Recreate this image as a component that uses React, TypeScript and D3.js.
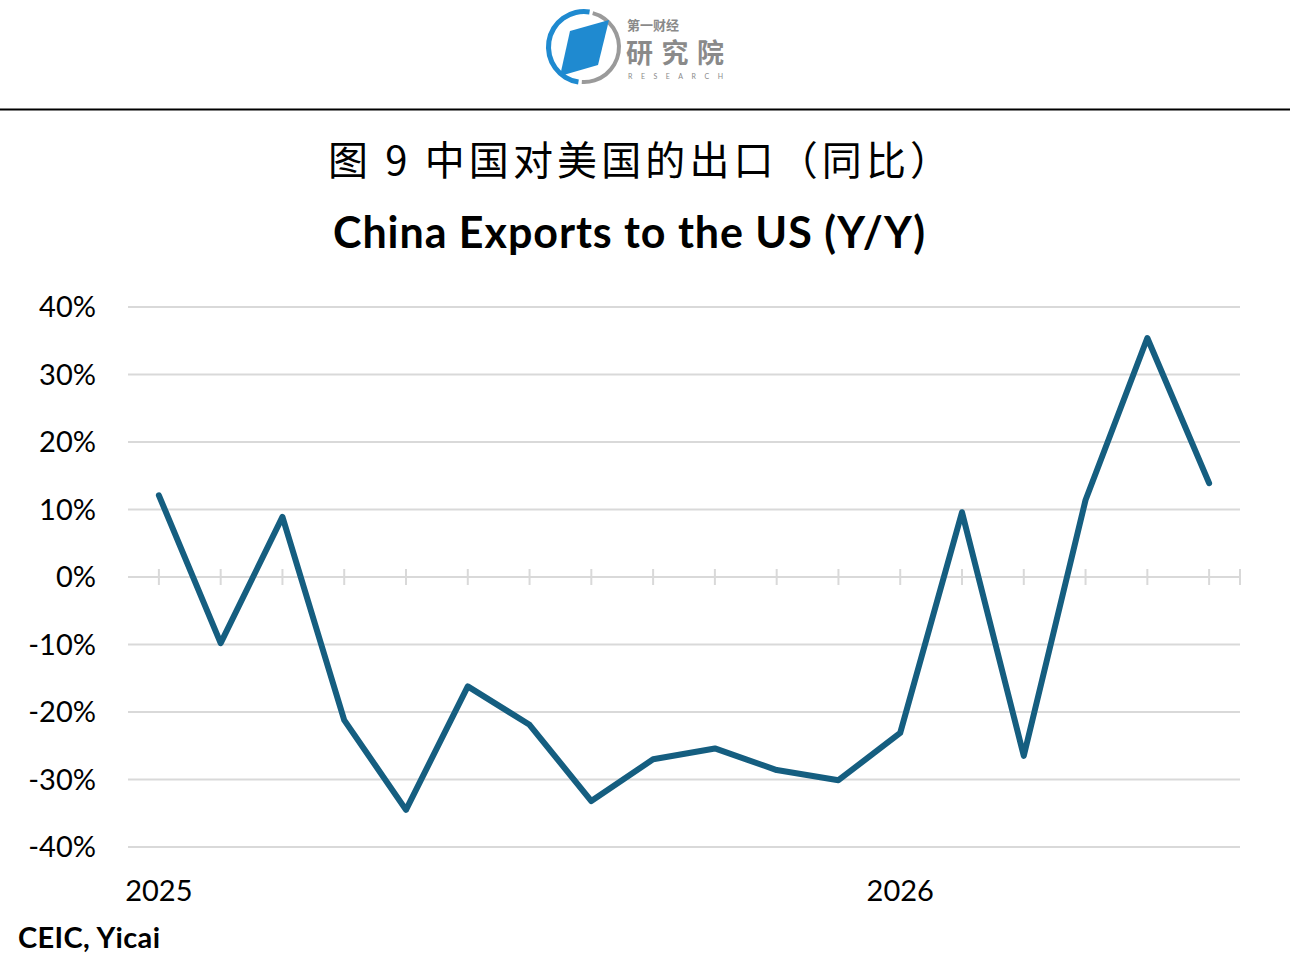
import React from "react";
import * as d3 from "d3";

const months = [
  "2025-01","2025-02","2025-03","2025-04","2025-05","2025-06",
  "2025-07","2025-08","2025-09","2025-10","2025-11","2025-12",
  "2026-01","2026-02","2026-03","2026-04","2026-05","2026-06",
];
const yoy = [12.1, -9.8, 8.9, -21.2, -34.5, -16.2, -21.9, -33.2, -27.0, -25.4, -28.6, -30.1, -23.1, 9.6, -26.5, 11.4, 35.4, 13.9];
const yTicks = [40, 30, 20, 10, 0, -10, -20, -30, -40];
const yearLabels = [{ month: "2025-01", label: "2025" }, { month: "2026-01", label: "2026" }];

const W = 1290, H = 954;
const left = 128, right = 1240, top = 307, bottom = 847;

export default function App() {
  const x = d3.scaleBand<string>().domain(months).range([left, right]).padding(0);
  const cx = (m: string) => (x(m) as number) + x.bandwidth() / 2;
  const y = d3.scaleLinear().domain([-40, 40]).range([bottom, top]);
  const line = d3.line<number>().x((_, i) => cx(months[i])).y((d) => y(d));
  const tickXs = [...months.map(cx), right];
  const latin = "Lato, 'Open Sans', sans-serif";
  return (
    <svg width={W} height={H} style={{ position: "absolute", left: 0, top: 0, background: "#fff" }}>
      {/* logo */}
      <g>
        <path d={d3.arc()({ innerRadius: 33, outerRadius: 38, startAngle: -Math.PI * 0.95, endAngle: Math.PI * 0.05 }) as string} transform="translate(584,47)" fill="#1f8ad0" />
        <path d={d3.arc()({ innerRadius: 33, outerRadius: 37, startAngle: Math.PI * 0.08, endAngle: Math.PI * 1.02 }) as string} transform="translate(584,47)" fill="#9a9a9a" />
        <path d="M570,31 L609,20 L598,65 L560,76 Z" fill="#1f8ad0" />
        <text x={627} y={30} fontFamily="'Noto Sans CJK SC'" fontSize={13} fontWeight={700} fill="#8a8a8a">第一财经</text>
        <text x={626} y={63} fontFamily="'Noto Sans CJK SC'" fontSize={27} fontWeight={700} fill="#8a8a8a" textLength={98}>研究院</text>
        <text x={628} y={79} fontFamily={latin} fontSize={7} fill="#8a8a8a" textLength={95} lengthAdjust="spacing">RESEARCH</text>
      </g>
      <line x1={0} x2={W} y1={109.5} y2={109.5} stroke="#000" strokeWidth={2} />
      {/* titles */}
      <text x={328} y={175} fontFamily="'Noto Sans CJK SC'" fontSize={40} fill="#000" textLength={622}>图 9 中国对美国的出口（同比）</text>
      <text x={333} y={248} fontFamily={latin} fontWeight={700} fontSize={43} fill="#000" textLength={592}>China Exports to the US (Y/Y)</text>
      {/* grid */}
      {yTicks.map((t) => (
        <g key={t}>
          <line x1={left} x2={right} y1={y(t)} y2={y(t)} stroke="#d9d9d9" strokeWidth={2} />
          <text x={96} y={y(t) + 10} textAnchor="end" fontFamily={latin} fontSize={29} fill="#000">{t}%</text>
        </g>
      ))}
      {tickXs.map((tx, i) => (
        <line key={i} x1={tx} x2={tx} y1={y(0) - 8} y2={y(0) + 8} stroke="#d9d9d9" strokeWidth={2} />
      ))}
      {yearLabels.map((yl) => (
        <text key={yl.label} x={cx(yl.month)} y={901} textAnchor="middle" fontFamily={latin} fontSize={29} fill="#000">{yl.label}</text>
      ))}
      <path d={line(yoy) as string} fill="none" stroke="#155e80" strokeWidth={6} strokeLinejoin="round" strokeLinecap="round" />
      <text x={18} y={948} fontFamily={latin} fontWeight={700} fontSize={29} fill="#000" textLength={142}>CEIC, Yicai</text>
    </svg>
  );
}
